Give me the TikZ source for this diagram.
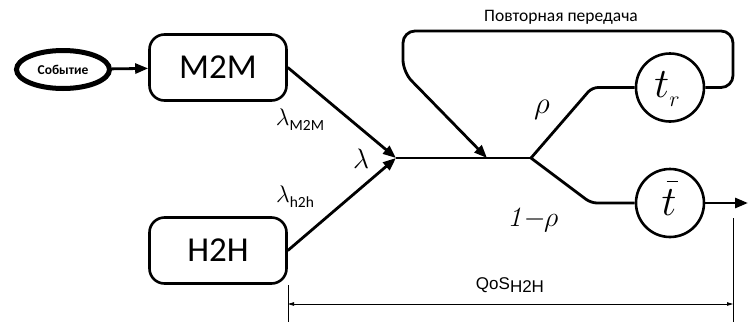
\RequirePackage{fix-cm}
\documentclass[tikz,border=0pt]{standalone}
\usepackage{fontspec}
\setmainfont{Carlito}
\newfontfamily\arialfont{Liberation Sans}
\usetikzlibrary{arrows.meta,shapes.geometric}

% serif italic digits inside formulas
\DeclareMathAlphabet{\mathcmit}{OT1}{cmr}{m}{it}

\tikzset{
  flow/.style={line width=2.8pt, line join=round},
  tip/.style={-{Triangle[length=13pt,width=10pt]}},
  eventnode/.style={ellipse, draw, line width=5pt, inner sep=0pt,
    minimum width=93pt, minimum height=38pt, font=\fontsize{13.5}{14}\selectfont\bfseries},
  sourcebox/.style={draw, line width=2.6pt, rounded corners=15pt,
    minimum width=137pt, minimum height=66pt, inner sep=0pt,
    font=\fontsize{35}{36}\selectfont},
  delay/.style={circle, draw, line width=2.6pt, minimum size=68pt, inner sep=0pt},
  dim/.style={line width=0.8pt},
  dimtip/.style={{Triangle[length=6pt,width=3.5pt]}-{Triangle[length=6pt,width=3.5pt]}},
  sym/.style={inner sep=0pt, font=\fontsize{#1}{#1}\selectfont},
  note/.style={inner sep=0pt, font=\fontsize{17.5}{18}\selectfont},
}

\begin{document}
\begin{tikzpicture}[x=1pt, y=-1pt]
\useasboundingbox (0,0) rectangle (748,322);

% sources
\node[eventnode] (ev) at (63,69.5) {Событие};
\node[sourcebox] (m2m) at (218,67.5) {M2M};
\node[sourcebox] (h2h) at (218,250.5) {H2H};

% delay elements
\node[delay] (tr) at (670,87.5) {};
\node[delay] (tb) at (670,203) {};
\node[sym=42] at (667,89) {$t$\raisebox{-9pt}{\fontsize{22}{22}\selectfont$r$}};
\node[sym=42] at (669,198) {\makebox[0pt][l]{\hspace{5pt}\raisebox{33pt}{\rule{11pt}{1.5pt}}}$t$};

% junctions and bends
\coordinate (j) at (396,158);
\coordinate (s) at (531,158);
\coordinate (back) at (487,158);
\coordinate (ub) at (592,87.5);
\coordinate (lb) at (591,203);
\coordinate (out) at (748,203);
\coordinate (lpA) at (733,87.5);
\coordinate (lpB) at (733,31);
\coordinate (lpC) at (403,31);
\coordinate (lpD) at (403,72);

\draw[flow,tip] (ev) -- (m2m);
\draw[flow,tip] (m2m.east) -- (j);
\draw[flow,tip] (h2h.east) -- (j);
\draw[flow] (j) -- (s);
\draw[flow, rounded corners=6pt] (s) -- (ub) -- (tr.west);
\draw[flow, rounded corners=6pt] (s) -- (lb) -- (tb.west);
\draw[flow,tip] (tb.east) -- (out);
\draw[flow,tip, rounded corners=12pt] (tr.east) -- (lpA) -- (lpB) -- (lpC) -- (lpD) -- (back);

% labels
\node[note] at (561,17) {Повторная передача};
\node[sym=28] at (361,159) {$\lambda$};
\node[inner sep=0pt] at (300,120) {{\fontsize{24}{24}\selectfont$\lambda$}\raisebox{-5pt}{\fontsize{15.5}{16}\selectfont M2M}};
\node[inner sep=0pt] at (295,197) {{\fontsize{24}{24}\selectfont$\lambda$}\raisebox{-5pt}{\fontsize{15.5}{16}\selectfont h2h}};
\node[sym=31] at (542,110) {$\rho$};
\node[sym=28] at (533,220) {$\mathcmit{1}\mkern-1mu{-}\mkern-1mu\rho$};

% QoS dimension
\coordinate (dl) at (288,304);
\coordinate (dr) at (733,304);
\draw[dim] (288,285) -- (288,322);
\draw[dim] (733,218) -- (733,322);
\draw[dim,dimtip] (dl) -- (dr);
\node[inner sep=0pt, font=\arialfont\fontsize{17}{18}\selectfont] at (510,285) {QoS\raisebox{-3pt}{H2H}};
\end{tikzpicture}
\end{document}
